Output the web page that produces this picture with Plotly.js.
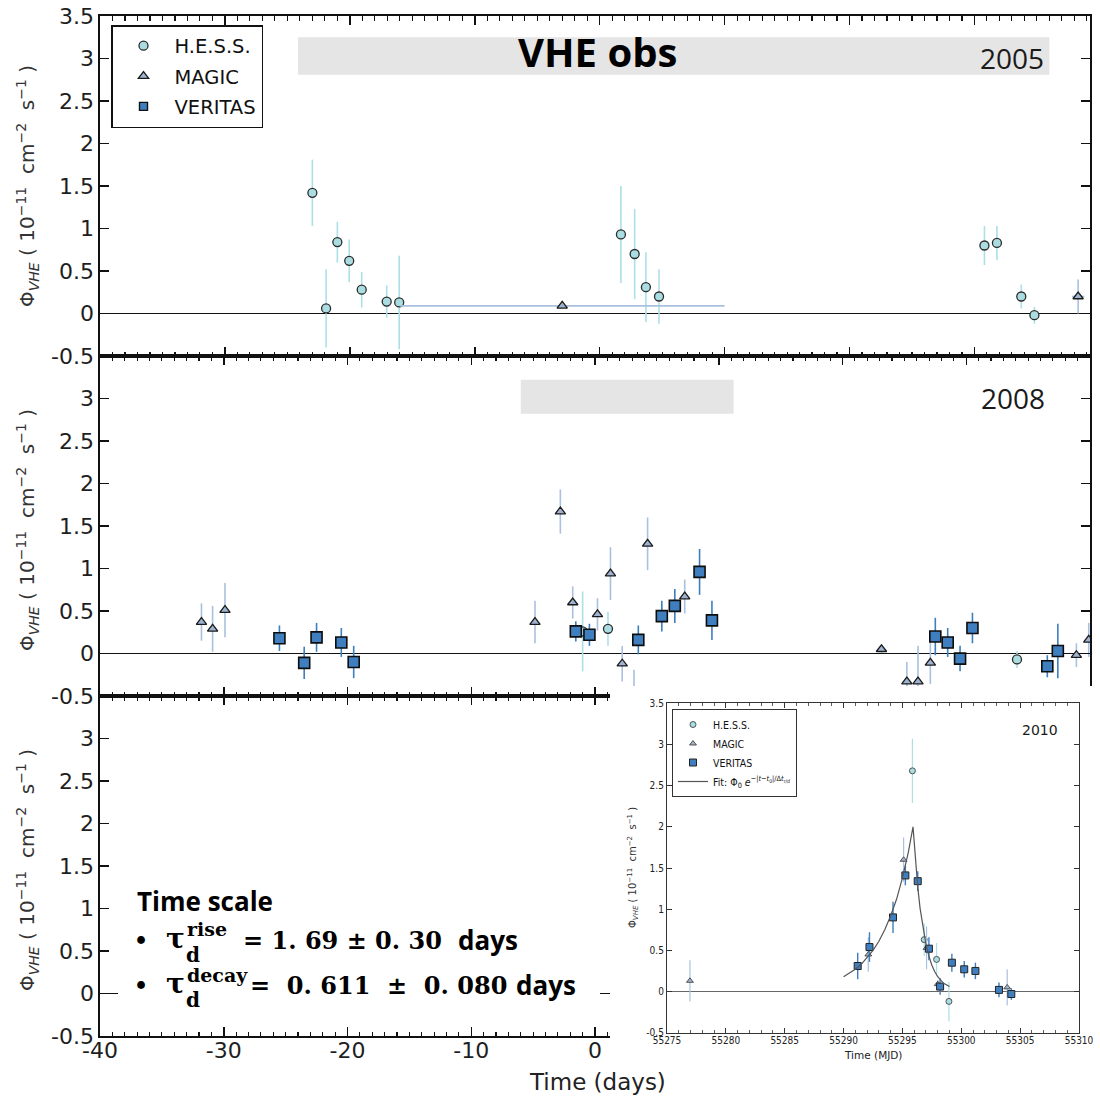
<!DOCTYPE html>
<html>
<head>
<meta charset="utf-8">
<script src="https://cdn.plot.ly/plotly-3.0.1.min.js"></script>
<style>html,body{margin:0;padding:0;background:#fff;}</style>
</head>
<body>
<div id="chart" style="width:1100px;height:1098px;"></div>
<script>
// ---------------- DATA ----------------
// 2005 campaign (days relative to reference)
const hess05_t = [-23.0, -21.9, -21.0, -20.05, -19.05, -17.05, -16.05, 1.7, 2.8, 3.7, 4.75, 30.8, 31.8, 33.75, 34.8];
const hess05_f = [1.42, 0.06, 0.84, 0.62, 0.28, 0.14, 0.13, 0.93, 0.70, 0.31, 0.20, 0.80, 0.83, 0.20, -0.02];
const hess05_e = [0.39, 0.46, 0.24, 0.25, 0.21, 0.19, 0.55, 0.57, 0.53, 0.41, 0.32, 0.23, 0.20, 0.14, 0.10];
const magic05_t = [-3.0, 38.3];
const magic05_f = [0.09, 0.20];
const magic05_e = [0.0, 0.20];
const magic05_ex = [13.0, 0.5];

// 2008 campaign
const hess08_t = [-1.0, 1.05, 34.1];
const hess08_f = [0.26, 0.29, -0.07];
const hess08_e = [0.47, 0.20, 0.10];
const magic08_t = [-31.8, -30.9, -29.9, -4.85, -2.8, -1.8, 0.2, 1.25, 2.2, 3.15, 4.25, 7.25, 23.15, 25.2, 26.1, 27.1, 38.9, 39.9];
const magic08_f = [0.37, 0.29, 0.51, 0.37, 1.67, 0.60, 0.46, 0.94, -0.12, -0.45, 1.29, 0.67, 0.05, -0.33, -0.33, -0.11, -0.02, 0.16];
const magic08_e = [0.22, 0.27, 0.32, 0.25, 0.26, 0.19, 0.19, 0.31, 0.21, 0.26, 0.31, 0.20, 0.04, 0.23, 0.42, 0.25, 0.14, 0.20];
const veritas08_t = [-25.5, -23.5, -22.5, -20.5, -19.5, -1.55, -0.45, 3.5, 5.4, 6.45, 8.45, 9.45, 27.5, 28.5, 29.5, 30.5, 36.55, 37.4];
const veritas08_f = [0.18, -0.11, 0.19, 0.13, -0.10, 0.26, 0.22, 0.16, 0.44, 0.56, 0.96, 0.39, 0.20, 0.13, -0.06, 0.30, -0.15, 0.03];
const veritas08_e = [0.15, 0.19, 0.17, 0.17, 0.19, 0.12, 0.13, 0.17, 0.18, 0.20, 0.27, 0.23, 0.22, 0.17, 0.15, 0.18, 0.13, 0.32];

// 2010 flare (MJD), inset
const hess10_t = [55295.85, 55296.85, 55297.9, 55298.95];
const hess10_f = [2.68, 0.63, 0.39, -0.12];
const hess10_e = [0.39, 0.20, 0.20, 0.24];
const magic10_t = [55276.95, 55292.1, 55295.1, 55297.05, 55298.0, 55303.9];
const magic10_f = [0.13, 0.45, 1.60, 0.53, 0.09, 0.05];
const magic10_e = [0.25, 0.21, 0.27, 0.26, 0.05, 0.22];
const veritas10_t = [55291.2, 55292.2, 55294.2, 55295.25, 55296.3, 55297.25, 55298.2, 55299.2, 55300.25, 55301.2, 55303.2, 55304.25];
const veritas10_f = [0.31, 0.54, 0.90, 1.41, 1.34, 0.52, 0.06, 0.35, 0.27, 0.25, 0.02, -0.03];
const veritas10_e = [0.16, 0.18, 0.19, 0.12, 0.12, 0.14, 0.10, 0.11, 0.10, 0.10, 0.09, 0.07];
// fit curve
const fit10_t = [55290.0, 55290.5, 55291.0, 55291.5, 55292.0, 55292.5, 55293.0, 55293.5, 55294.0, 55294.5, 55295.0, 55295.5, 55295.9, 55296.1, 55296.3, 55296.5, 55296.75, 55297.0, 55297.25, 55297.5, 55297.75, 55298.0, 55298.5, 55299.0];
const fit10_f = [0.18, 0.22, 0.27, 0.33, 0.41, 0.50, 0.61, 0.75, 0.92, 1.12, 1.38, 1.69, 2.00, 1.60, 1.27, 1.01, 0.76, 0.57, 0.43, 0.32, 0.24, 0.18, 0.10, 0.06];

// tick labels
const mainXTicks = [-40, -30, -20, -10, 0, 10, 20, 30, 40];
const mainXText = ['-40', '-30', '-20', '-10', '0', '10', '20', '30', '40'];
const yTicksTop = [-0.5, 0, 0.5, 1, 1.5, 2, 2.5, 3, 3.5];
const yTextTop = ['-0.5', '0', '0.5', '1', '1.5', '2', '2.5', '3', '3.5'];
const yTicksLow = [-0.5, 0, 0.5, 1, 1.5, 2, 2.5, 3];
const yTextLow = ['-0.5', '0', '0.5', '1', '1.5', '2', '2.5', '3'];
const insetXTicks = [55275, 55280, 55285, 55290, 55295, 55300, 55305, 55310];
const insetXText = ['55275', '55280', '55285', '55290', '55295', '55300', '55305', '55310'];
const insetYText = ['-0.5', '0', '0.5', '1', '1.5', '2', '2.5', '3', '3.5'];

// ---------------- STYLE ----------------
const W = 1100, H = 1098, ML = 100, MR = 0, MT = 16, MB = 33;
const PW = W - ML - MR, PH = H - MT - MB;
const px = p => (p - ML) / PW;
const py = p => (H - MB - p) / PH;

const C = {
  hessFill: '#a9dde2', hessErr: '#acdfe6',
  magicFill: '#9fb3d0', magicErr: '#a9c0de',
  verFill: '#3f7fbf', verErr: '#3d7ec0'
};
const TICKF = 'DejaVu Sans, Arial, sans-serif';
const NARROW = 'DejaVu Sans Condensed, Liberation Sans Narrow, DejaVu Sans, sans-serif';

function mk(name, t, f, e, sym, fill, errc, size, lw, xa, ya, opts) {
  opts = opts || {};
  const tr = {
    type: 'scatter', mode: 'markers', name: name,
    x: t, y: f, xaxis: xa, yaxis: ya,
    marker: {symbol: sym, size: size, color: fill, line: {color: opts.edge || '#1a1a1a', width: lw}},
    error_y: {type: 'data', array: e, visible: true, color: errc, thickness: opts.et || 1.6, width: 0},
    showlegend: !!opts.legend, legend: opts.legendId || 'legend', legendgroup: opts.group || name,
    hoverinfo: 'x+y'
  };
  if (opts.ex) tr.error_x = {type: 'data', array: opts.ex, visible: true, color: errc, thickness: 1.6, width: 0};
  return tr;
}

const traces = [
  // 2005
  mk('H.E.S.S.', hess05_t, hess05_f, hess05_e, 'circle', C.hessFill, C.hessErr, 9, 1.3, 'x', 'y', {legend: true, group: 'g1', edge: '#2b2b2b'}),
  mk('MAGIC', magic05_t, magic05_f, magic05_e, 'triangle-up', C.magicFill, C.magicErr, 9, 1.3, 'x', 'y', {legend: true, group: 'g2', ex: magic05_ex}),
  {type: 'scatter', mode: 'markers', name: 'VERITAS', x: [null], y: [null], xaxis: 'x', yaxis: 'y',
   marker: {symbol: 'square', size: 8, color: C.verFill, line: {color: '#111', width: 1.4}}, showlegend: true, legend: 'legend', legendgroup: 'g3'},
  // 2008
  mk('H.E.S.S. 2008', hess08_t, hess08_f, hess08_e, 'circle', C.hessFill, C.hessErr, 9, 1.3, 'x2', 'y2', {edge: '#2b2b2b'}),
  mk('MAGIC 2008', magic08_t, magic08_f, magic08_e, 'triangle-up', C.magicFill, C.magicErr, 9, 1.3, 'x2', 'y2'),
  mk('VERITAS 2008', veritas08_t, veritas08_f, veritas08_e, 'square', C.verFill, C.verErr, 11, 1.6, 'x2', 'y2', {edge: '#0d0d0d'}),
  // bottom panel (empty)
  {type: 'scatter', mode: 'markers', x: [null], y: [null], xaxis: 'x3', yaxis: 'y3', showlegend: false, hoverinfo: 'skip'},
  // white cover for inset
  {type: 'scatter', mode: 'markers', x: [null], y: [null], xaxis: 'x4', yaxis: 'y4', showlegend: false, hoverinfo: 'skip'},
  // inset 2010
  mk('H.E.S.S.', hess10_t, hess10_f, hess10_e, 'circle', C.hessFill, C.hessErr, 6, 0.9, 'x5', 'y5', {legend: true, legendId: 'legend2', group: 'i1', et: 1.2, edge: '#444'}),
  mk('MAGIC', magic10_t, magic10_f, magic10_e, 'triangle-up', C.magicFill, C.magicErr, 6, 0.9, 'x5', 'y5', {legend: true, legendId: 'legend2', group: 'i2', et: 1.2, edge: '#444'}),
  mk('VERITAS', veritas10_t, veritas10_f, veritas10_e, 'square', C.verFill, C.verErr, 7, 1.0, 'x5', 'y5', {legend: true, legendId: 'legend2', group: 'i3', et: 1.4, edge: '#222'}),
  {type: 'scatter', mode: 'lines', name: 'Fit: Φ<sub>0</sub> <i>e</i><sup>−|<i>t</i>−<i>t</i><sub>0</sub>|/Δ<i>t</i><sub>r/d</sub></sup>',
   x: fit10_t, y: fit10_f, xaxis: 'x5', yaxis: 'y5', line: {color: '#555', width: 1.2},
   showlegend: true, legend: 'legend2', legendgroup: 'i4', hoverinfo: 'skip'}
];

function mainX(range, labels, anchor) {
  return {
    domain: [0, px(1090)], anchor: anchor, range: range,
    tickmode: 'array', tickvals: mainXTicks, ticktext: mainXText, showticklabels: labels,
    ticks: 'inside', ticklen: 9, tickwidth: 1.5, tickcolor: '#111',
    minor: {dtick: 1, tick0: 0, ticks: 'inside', ticklen: 4.5, tickwidth: 1.1, tickcolor: '#111', showgrid: false},
    mirror: 'ticks', showline: true, linecolor: '#111', linewidth: 1.6,
    showgrid: false, zeroline: false, fixedrange: true, ticklabelstandoff: -6,
    tickfont: {family: TICKF, size: 22, color: '#1e1e1e'}
  };
}
function mainY(dom, anchor, top) {
  return {
    domain: dom, anchor: anchor, range: [-0.5, 3.5],
    tickmode: 'array', tickvals: top ? yTicksTop : yTicksLow, ticktext: top ? yTextTop : yTextLow,
    ticks: 'inside', ticklen: 9, tickwidth: 1.5, tickcolor: '#111',
    mirror: 'ticks', showline: true, linecolor: '#111', linewidth: 1.6,
    showgrid: false, zeroline: true, zerolinecolor: '#111', zerolinewidth: 1.6, fixedrange: true,
    tickfont: {family: TICKF, size: 22, color: '#1e1e1e'}
  };
}

const ytitle = 'Φ<sub><i>VHE</i></sub> ( 10<sup>−11</sup>  cm<sup>−2</sup>  s<sup>−1</sup> )';
const serifB = 'DejaVu Serif, Liberation Serif, serif';
const sansB = 'Open Sans, Lato, sans-serif';

function ann(text, x, y, font, xanchor, extra) {
  return Object.assign({text: text, x: px(x), y: py(y), xref: 'paper', yref: 'paper', showarrow: false,
    xanchor: xanchor || 'center', yanchor: 'middle', font: font}, extra || {});
}

const annotations = [
  ann(ytitle, 27, 186, {family: TICKF, size: 20, color: '#333'}, 'center', {textangle: -90}),
  ann(ytitle, 27, 530, {family: TICKF, size: 20, color: '#333'}, 'center', {textangle: -90}),
  ann(ytitle, 27, 870, {family: TICKF, size: 20, color: '#333'}, 'center', {textangle: -90}),
  ann('<b>VHE obs</b>', 597, 52, {family: sansB, size: 40, color: '#000'}),
  ann('2005', 1012, 58, {family: sansB, size: 28, color: '#1a1a1a'}),
  ann('2008', 1013, 398, {family: sansB, size: 28, color: '#1a1a1a'}),
  ann('Time (days)', 597, 1082, {family: TICKF, size: 23, color: '#222'}),
  // time-scale text
  ann('<b>Time scale</b>', 135, 901, {family: sansB, size: 26, color: '#000'}, 'left'),
  ann('<b>•</b>', 141, 940, {family: serifB, size: 22, color: '#000'}),
  ann('<b>•</b>', 141, 985, {family: serifB, size: 22, color: '#000'}),
  ann('<b>τ</b>', 175, 938, {family: serifB, size: 28, color: '#000'}),
  ann('<b>rise</b>', 185, 929, {family: serifB, size: 19, color: '#000'}, 'left'),
  ann('<b>d</b>', 184, 955, {family: serifB, size: 20, color: '#000'}, 'left'),
  ann('<b>= 1. 69 ± 0. 30</b>', 241, 940, {family: serifB, size: 24, color: '#000'}, 'left'),
  ann('<b>days</b>', 456, 940, {family: sansB, size: 26, color: '#000'}, 'left'),
  ann('<b>τ</b>', 175, 983, {family: serifB, size: 28, color: '#000'}),
  ann('<b>decay</b>', 185, 975, {family: serifB, size: 19, color: '#000'}, 'left'),
  ann('<b>d</b>', 184, 1000, {family: serifB, size: 20, color: '#000'}, 'left'),
  ann('<b>=  0. 611  ±  0. 080</b>', 248, 985, {family: serifB, size: 24, color: '#000'}, 'left'),
  ann('<b>days</b>', 514, 985, {family: sansB, size: 26, color: '#000'}, 'left'),
  // inset labels
  ann(ytitle, 633, 868, {family: TICKF, size: 10, color: '#333'}, 'center', {textangle: -90}),
  ann('Time (MJD)', 873, 1055, {family: TICKF, size: 10.5, color: '#222'}),
  ann('2010', 1040, 730, {family: TICKF, size: 14, color: '#1a1a1a'})
];

const shapes = [
  {type: 'rect', xref: 'x', yref: 'y', x0: -24.15, x1: 36.0, y0: 2.81, y1: 3.25, fillcolor: '#e5e5e5', line: {width: 0}, layer: 'below'},
  {type: 'rect', xref: 'x2', yref: 'y2', x0: -6.0, x1: 11.2, y0: 2.82, y1: 3.22, fillcolor: '#e5e5e5', line: {width: 0}, layer: 'below'},
  {type: 'rect', xref: 'paper', yref: 'paper', x0: px(118), x1: px(600), y0: py(1012), y1: py(882), fillcolor: '#ffffff', line: {width: 0}, layer: 'above'}
];

const layout = {
  width: W, height: H,
  margin: {l: ML, r: MR, t: MT, b: MB, pad: 0},
  paper_bgcolor: '#ffffff', plot_bgcolor: '#ffffff',
  font: {family: TICKF, color: '#222'},
  xaxis: mainX([-40, 39.25], false, 'y'),
  xaxis2: mainX([-40, 40], false, 'y2'),
  xaxis3: mainX([-40, 40], true, 'y3'),
  yaxis: mainY([py(356), 1], 'x', true),
  yaxis2: mainY([py(696), py(356)], 'x2', false),
  yaxis3: mainY([py(1036), py(696)], 'x3', false),
  xaxis4: {domain: [px(610), 1], anchor: 'y4', visible: false, range: [0, 1], fixedrange: true},
  yaxis4: {domain: [py(1059), py(686)], anchor: 'x4', visible: false, range: [0, 1], fixedrange: true},
  xaxis5: {
    domain: [px(667), px(1079)], anchor: 'y5', range: [55275, 55310],
    tickmode: 'array', tickvals: insetXTicks, ticktext: insetXText,
    ticks: 'inside', ticklen: 5, tickwidth: 1, tickcolor: '#333',
    minor: {dtick: 1, tick0: 55275, ticks: 'inside', ticklen: 2.5, tickwidth: 0.8, tickcolor: '#333', showgrid: false},
    mirror: 'ticks', showline: true, linecolor: '#333', linewidth: 1.1,
    showgrid: false, zeroline: false, fixedrange: true, ticklabelstandoff: -2,
    tickfont: {family: NARROW, size: 10, color: '#222'}
  },
  yaxis5: {
    domain: [py(1032.7), py(703.3)], anchor: 'x5', range: [-0.5, 3.5],
    tickmode: 'array', tickvals: yTicksTop, ticktext: insetYText,
    ticks: 'inside', ticklen: 5, tickwidth: 1, tickcolor: '#333',
    mirror: 'ticks', showline: true, linecolor: '#333', linewidth: 1.1,
    showgrid: false, zeroline: true, zerolinecolor: '#666', zerolinewidth: 1.5, fixedrange: true,
    tickfont: {family: NARROW, size: 10, color: '#222'}
  },
  legend: {
    x: px(111), y: py(25), xanchor: 'left', yanchor: 'top',
    bgcolor: '#ffffff', bordercolor: '#111', borderwidth: 1.5,
    font: {family: TICKF, size: 19.5, color: '#111'}, tracegroupgap: 2, itemwidth: 52, itemclick: false, itemdoubleclick: false
  },
  legend2: {
    x: px(672), y: py(709), xanchor: 'left', yanchor: 'top',
    bgcolor: '#ffffff', bordercolor: '#333', borderwidth: 1,
    font: {family: NARROW, size: 10.5, color: '#111'}, tracegroupgap: 0, itemwidth: 30, itemclick: false, itemdoubleclick: false
  },
  annotations: annotations,
  shapes: shapes,
  showlegend: true
};

Plotly.newPlot('chart', traces, layout, {displayModeBar: false, staticPlot: true});
</script>
</body>
</html>
